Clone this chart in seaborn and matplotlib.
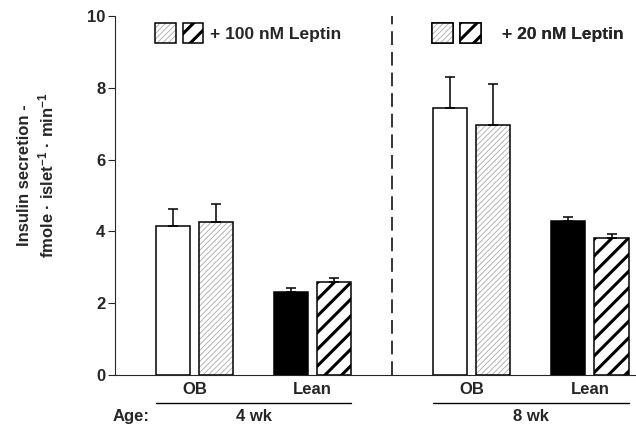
import matplotlib
matplotlib.use("Agg")
import pandas as pd
import matplotlib.pyplot as plt
import matplotlib.transforms as mtransforms
import seaborn as sns
from matplotlib.patches import Patch, Rectangle
from matplotlib.legend_handler import HandlerTuple

# Values (mean and SEM)
ages = ["4 wk", "4 wk", "4 wk", "4 wk", "8 wk", "8 wk", "8 wk", "8 wk"]
strains = ["OB", "OB", "Lean", "Lean", "OB", "OB", "Lean", "Lean"]
treatments = ["Control", "Leptin", "Control", "Leptin",
              "Control", "Leptin", "Control", "Leptin"]
secretion = [4.16, 4.27, 2.31, 2.59, 7.43, 6.96, 4.30, 3.81]
sem = [0.46, 0.49, 0.12, 0.12, 0.86, 1.14, 0.11, 0.12]

age_order = ["4 wk", "8 wk"]
strain_order = ["OB", "Lean"]
dose_labels = ["+ 100 nM Leptin", "+ 20 nM Leptin"]
yticks = [0, 2, 4, 6, 8, 10]

sns.set_style("ticks")
plt.rcParams["font.family"] = ["Liberation Sans", "DejaVu Sans"]
plt.rcParams["font.weight"] = "bold"
plt.rcParams["mathtext.fontset"] = "custom"
plt.rcParams["mathtext.rm"] = "Liberation Sans:bold"
plt.rcParams["mathtext.it"] = "Liberation Sans:bold"
plt.rcParams["mathtext.default"] = "rm"
plt.rcParams["hatch.linewidth"] = 2.2

STIPPLE = "#aaaaaa"
STIPPLE_HATCH = "//////"
STRIPE_HATCH = "//"
EDGE_LW = 1.1
FS = 12

df = pd.DataFrame({"age": ages, "strain": strains, "treatment": treatments,
                   "secretion": secretion, "sem": sem})
# group positions: strains one unit apart, extra space between the two ages
age_idx = df["age"].map({a: i for i, a in enumerate(age_order)})
strain_idx = df["strain"].map({s: i for i, s in enumerate(strain_order)})
df["pos"] = age_idx * 2.35 + strain_idx

fig = plt.figure(figsize=(6.36, 4.24), dpi=100)
ax = fig.add_axes([0.1808, 0.1156, 0.8192, 0.8467])

sns.barplot(data=df, x="pos", y="secretion", hue="treatment",
            hue_order=["Control", "Leptin"], native_scale=True,
            width=0.73, gap=0.21, errorbar=None, legend=False, ax=ax)


def hatch_width(patch):
    # thin grey lines for the stipple, heavy black stripes otherwise
    if hasattr(patch, "set_hatch_linewidth"):
        patch.set_hatch_linewidth(0.6 if patch.get_hatch() == STIPPLE_HATCH else 2.2)


bars = sorted(ax.patches, key=lambda p: p.get_x())
rows = df.sort_values(["pos", "treatment"]).reset_index(drop=True)
for bar, (_, row) in zip(bars, rows.iterrows()):
    bar.set_linewidth(EDGE_LW)
    bar.set_edgecolor("black")
    if row["treatment"] == "Control":
        bar.set_facecolor("white" if row["strain"] == "OB" else "black")
    elif row["strain"] == "OB":
        # light stippled hatch, grey lines with black outline on top
        bar.set_facecolor("white")
        bar.set_edgecolor(STIPPLE)
        bar.set_hatch(STIPPLE_HATCH)
        bar.set_linewidth(0)
        hatch_width(bar)
        ax.add_patch(Rectangle(bar.get_xy(), bar.get_width(), bar.get_height(),
                               fill=False, edgecolor="black", linewidth=EDGE_LW,
                               zorder=bar.get_zorder() + 0.1))
    else:
        bar.set_facecolor("white")
        bar.set_hatch(STRIPE_HATCH)
        hatch_width(bar)
    cx = bar.get_x() + bar.get_width() / 2
    ax.errorbar(cx, row["secretion"], yerr=[[0], [row["sem"]]], fmt="none",
                ecolor="black", elinewidth=1.1, capsize=3.6, capthick=1.1,
                zorder=1)

ax.set_ylim(0, 10)
ax.set_yticks(yticks)
group_pos = [i * 2.35 + j for i in range(len(age_order)) for j in range(len(strain_order))]
ax.set_xlim(group_pos[0] - 0.674, group_pos[-1] + 0.39)
ax.set_xticks(group_pos)
ax.set_xticklabels(strain_order * len(age_order))
ax.tick_params(axis="x", length=0, pad=5, labelsize=FS)
ax.tick_params(axis="y", length=5, width=0.8, pad=2, labelsize=FS)
for lab in ax.get_xticklabels() + ax.get_yticklabels():
    lab.set_fontweight("bold")
sns.despine(ax=ax)
for side in ["left", "bottom"]:
    ax.spines[side].set_linewidth(0.8)
ax.set_xlabel("")
ax.set_ylabel("Insulin secretion -\nfmole · islet$^{-1}$ · min$^{-1}$",
              fontsize=FS, fontweight="bold", linespacing=1.3)
ax.yaxis.set_label_coords(-0.112, 0.557)

trans = mtransforms.blended_transform_factory(ax.transData, ax.transAxes)

# age underlines, labels and leptin legends
for k, age in enumerate(age_order):
    age_bars = [b for b, (_, r) in zip(bars, rows.iterrows()) if r["age"] == age]
    left = min(b.get_x() for b in age_bars)
    right = max(b.get_x() + b.get_width() for b in age_bars)
    ax.plot([left, right], [-0.078, -0.078], transform=trans, clip_on=False,
            color="black", lw=1.0)
    ax.text((left + right) / 2, -0.117, age, transform=trans, ha="center",
            va="center", fontsize=FS, fontweight="bold")

    stipple_fill = Patch(facecolor="white", edgecolor=STIPPLE, hatch=STIPPLE_HATCH,
                         linewidth=0)
    stipple_edge = Patch(facecolor="none", edgecolor="black", linewidth=EDGE_LW)
    stripes = Patch(facecolor="white", edgecolor="black", hatch=STRIPE_HATCH,
                    linewidth=EDGE_LW)
    handle = ((stipple_fill, stipple_edge), stripes)
    leg = ax.legend(handles=[handle], labels=[dose_labels[k]],
                    handler_map={handle: HandlerTuple(ndivide=None, pad=0.4)},
                    loc="center left", bbox_to_anchor=(left - 0.01, 0.9526),
                    bbox_transform=trans, frameon=False, borderpad=0,
                    borderaxespad=0, handlelength=2.8, handleheight=1.45,
                    handletextpad=0.4 if k == 0 else 1.2,
                    prop={"weight": "bold", "size": 12.5})
    for r in leg.findobj(Rectangle):
        if r.get_hatch():
            hatch_width(r)
    ax.add_artist(leg)

# dashed divider between the two ages
lean4_right = max(b.get_x() + b.get_width() for b, (_, r) in zip(bars, rows.iterrows())
                  if r["age"] == age_order[0])
ob8_left = min(b.get_x() for b, (_, r) in zip(bars, rows.iterrows())
               if r["age"] == age_order[1])
ax.axvline((lean4_right + ob8_left) / 2, color="black", lw=1.1,
           dashes=(9, 4.5))

ax.text(-0.004, -0.117, "Age:", transform=ax.transAxes, ha="left",
        va="center", fontsize=FS, fontweight="bold")

fig.savefig("out.png", dpi=100)
